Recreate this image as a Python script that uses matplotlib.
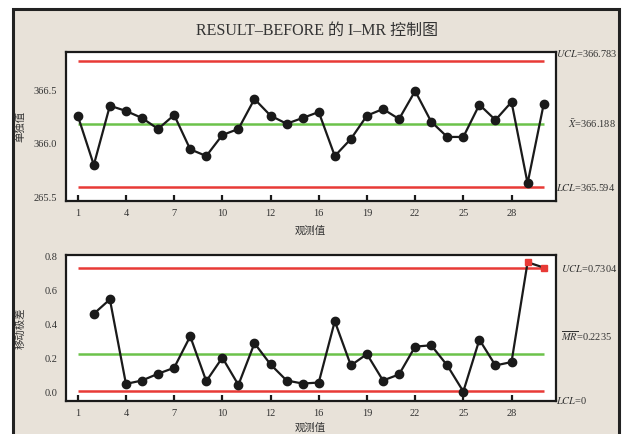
import matplotlib
matplotlib.use("Agg")
import matplotlib.pyplot as plt
from matplotlib.patches import Rectangle

plt.rcParams['font.family'] = ['Liberation Serif', 'Noto Sans CJK SC', 'DejaVu Sans']
plt.rcParams['mathtext.fontset'] = 'stix'

# Observation numbers and individual measurements
obs = list(range(1, 31))
individual = [366.266, 365.803, 366.359, 366.310, 366.244, 366.141, 366.272, 365.950,
              365.887, 366.084, 366.141, 366.422, 366.266, 366.190, 366.244, 366.300,
              365.887, 366.047, 366.266, 366.328, 366.234, 366.497, 366.209, 366.066,
              366.066, 366.369, 366.225, 366.394, 365.631, 366.372]

# Moving ranges (start at observation 2)
mr_obs = list(range(2, 31))
moving_range = [0.463, 0.548, 0.049, 0.069, 0.109, 0.144, 0.330, 0.065, 0.204, 0.043,
                0.289, 0.164, 0.069, 0.051, 0.057, 0.419, 0.158, 0.225, 0.069, 0.105,
                0.269, 0.277, 0.158, 0.004, 0.310, 0.158, 0.178, 0.767, 0.736]

# Control limits
i_ucl, i_center, i_lcl = 366.783, 366.188, 365.594
mr_ucl, mr_center, mr_lcl = 0.7304, 0.2235, 0.0

# Tick labels
xtick_pos = [1, 4, 7, 10, 13, 16, 19, 22, 25, 28]
xtick_labels = ['1', '4', '7', '10', '12', '16', '19', '22', '25', '28']
i_ytick_pos = [365.5, 366.0, 366.5]
i_ytick_labels = ['265.5', '366.0', '366.5']
mr_ytick_pos = [0.0, 0.2, 0.4, 0.6, 0.8]
mr_ytick_labels = ['0.0', '0.2', '0.4', '0.6', '0.8']

W, H = 624, 434
fig = plt.figure(figsize=(W / 100, H / 100), dpi=100)
fig.patch.set_facecolor('white')

bg = '#e8e2d9'
frame = Rectangle((13 / W, -0.05), (619 - 13) / W, 1 - 9 / H + 0.05,
                  transform=fig.transFigure, facecolor=bg, edgecolor='#222222',
                  linewidth=2.2, zorder=-10)
fig.patches.append(frame)

red = '#e83a36'
green = '#6cc24a'
ink = '#1a1a1a'
txt = '#333333'

ax1 = fig.add_axes([65.7 / W, 1 - 201 / H, 490 / W, 149 / H])
ax2 = fig.add_axes([65.7 / W, 1 - 401 / H, 490 / W, 146 / H])


def style(ax):
    ax.set_facecolor('white')
    for s in ax.spines.values():
        s.set_linewidth(1.6)
        s.set_color(ink)
    ax.set_xlim(0.25, 30.75)
    ax.set_xticks(xtick_pos)
    ax.set_xticklabels(xtick_labels, fontsize=7.5, color=txt)
    ax.tick_params(axis='x', direction='in', length=4, width=1.6, color=ink, pad=6)
    ax.tick_params(axis='y', length=0, pad=6, labelsize=7.5, labelcolor=txt)


cjk = ['Noto Sans CJK SC']

style(ax1)
ax1.hlines([i_ucl, i_lcl], 1, 30, color=red, lw=1.8, zorder=2)
ax1.hlines(i_center, 1, 30, color=green, lw=1.8, zorder=2)
ax1.plot(obs, individual, color=ink, lw=1.6, marker='o', ms=6, mfc=ink, mec=ink, zorder=3)
ax1.set_ylim(365.465, 366.863)
ax1.set_yticks(i_ytick_pos)
ax1.set_yticklabels(i_ytick_labels)
ax1.set_xlabel('观测值', fontsize=7.5, color=txt, family=cjk, labelpad=5)
ax1.set_ylabel('单独值', fontsize=7.5, color=txt, family=cjk)
ax1.yaxis.set_label_coords(-0.083, 0.5)

style(ax2)
ax2.hlines([mr_ucl, mr_lcl + 0.006], 1, 30, color=red, lw=1.8, zorder=2)
ax2.hlines(mr_center, 1, 30, color=green, lw=1.8, zorder=2)
ax2.plot(mr_obs, moving_range, color=ink, lw=1.6, zorder=3)
flag = [v > mr_ucl for v in moving_range]
ax2.plot([x for x, f in zip(mr_obs, flag) if not f],
         [v for v, f in zip(moving_range, flag) if not f],
         ls='none', marker='o', ms=6, mfc=ink, mec=ink, zorder=4)
ax2.plot([x for x, f in zip(mr_obs, flag) if f],
         [v for v, f in zip(moving_range, flag) if f],
         ls='none', marker='s', ms=5, mfc=red, mec=red, zorder=4)
ax2.set_ylim(-0.052, 0.81)
ax2.set_yticks(mr_ytick_pos)
ax2.set_yticklabels(mr_ytick_labels)
ax2.set_xlabel('观测值', fontsize=7.5, color=txt, family=cjk, labelpad=3)
ax2.set_ylabel('移动极差', fontsize=7.5, color=txt, family=cjk)
ax2.yaxis.set_label_coords(-0.083, 0.5)

# Limit annotations on the right side
lab = dict(fontsize=7.5, color=txt, va='center', ha='left', clip_on=False)
ax1.text(1.0, 0.99, r'$UCL$=366.783', transform=ax1.transAxes, **lab)
ax1.text(1.025, i_center, r'$\bar{X}$=366.188',
         transform=ax1.get_yaxis_transform(), **lab)
ax1.text(1.0, i_lcl, r'$LCL$=365.594', transform=ax1.get_yaxis_transform(), **lab)
ax2.text(1.01, mr_ucl, r'$UCL$=0.7304', transform=ax2.get_yaxis_transform(), **lab)
ax2.text(1.01, 0.33, r'$\overline{MR}$=0.2235',
         transform=ax2.get_yaxis_transform(), **lab)
ax2.text(1.0, -0.05, r'$LCL$=0', transform=ax2.get_yaxis_transform(), **lab)

fig.text(317 / W, 1 - 31 / H, 'RESULT–BEFORE 的 I–MR 控制图', fontsize=11.5,
         color=txt, ha='center', va='center')

fig.savefig('out.png', dpi=100, facecolor=fig.get_facecolor())
